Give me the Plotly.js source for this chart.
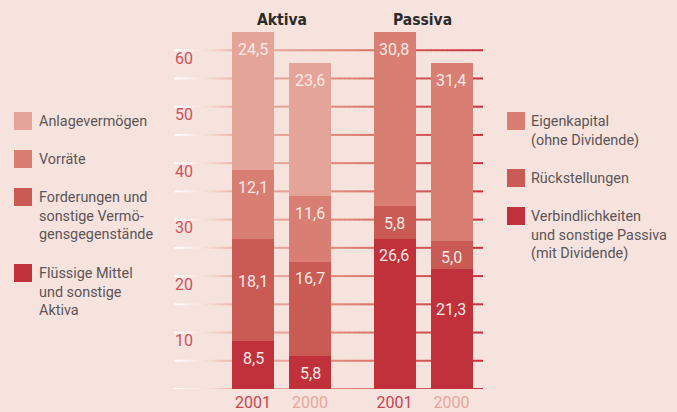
<!DOCTYPE html>
<html><head><meta charset="utf-8">
<script src="https://cdn.plot.ly/plotly-3.0.1.min.js"></script>
<style>html,body{margin:0;padding:0;background:#f6e3de}</style>
</head><body><div id="chart" style="width:677px;height:412px"></div>
<script>
// ---- data ----
const years = ['2001', '2000'];
const aktivaFluessig = [8.5, 5.8];
const aktivaForderungen = [18.1, 16.7];
const aktivaVorraete = [12.1, 11.6];
const aktivaAnlage = [24.5, 23.6];
const passivaVerbindlichkeiten = [26.6, 21.3];
const passivaRueckstellungen = [5.8, 5.0];
const passivaEigenkapital = [30.8, 31.4];
const aktivaNames = ['Flüssige Mittel<br>und sonstige<br>Aktiva', 'Forderungen und<br>sonstige Vermö-<br>gensgegenstände', 'Vorräte', 'Anlagevermögen'];
const passivaNames = ['Verbindlichkeiten<br>und sonstige Passiva<br>(mit Dividende)', 'Rückstellungen', 'Eigenkapital<br>(ohne Dividende)'];
const yTickValues = [10, 20, 30, 40, 50, 60];
const yTickText = ['10', '20', '30', '40', '50', '60'];
const groupTitles = ['Aktiva', 'Passiva'];

// ---- style ----
const W = 677, H = 412, MT = 22, MB = 23;
const shades = ['#c1313c', '#c95b54', '#d87e72', '#e5a498'];
const passivaShades = ['#c1313c', '#c95b54', '#d87e72'];
const bg = '#f6e3de';
const yearTickColors = ['#c94450', '#e9a59b'];
const aktivaLegendTop = [264, 188, 150, 112];
const passivaLegendTop = [207, 169, 112];
// extra downward shift (px) of some value labels, as in the original layout
const aktivaLabelDrop = [[0, 0], [26, 0], [0, 0], [0, 0]];
const passivaLabelDrop = [[0, 24], [0, 0], [0, 0]];
const px = v => v / W, py = v => (H - MB - v) / (H - MT - MB);

const aktivaSeries = [aktivaFluessig, aktivaForderungen, aktivaVorraete, aktivaAnlage];
const passivaSeries = [passivaVerbindlichkeiten, passivaRueckstellungen, passivaEigenkapital];
const xIdx = years.map((_, i) => i);

const traces = [];
const annotations = [];
const shapes = [];
const fmt = v => v.toFixed(1).replace('.', ',');

function addGroup(series, names, colors, xa, drops) {
  const cum = years.map(() => 0);
  series.forEach((vals, i) => {
    traces.push({
      type: 'bar', x: xIdx, y: vals, xaxis: xa, yaxis: 'y', width: 0.737,
      name: names[i].replace(/<br>/g, ' '), showlegend: false,
      marker: {color: colors[i], line: {width: 0}}, hoverinfo: 'y+name'
    });
    vals.forEach((v, j) => {
      cum[j] += v;
      annotations.push({
        xref: xa, yref: 'y', x: xIdx[j], y: cum[j], yshift: -17 - drops[i][j],
        text: fmt(v), showarrow: false, yanchor: 'middle', xanchor: 'center',
        font: {family: 'Roboto, sans-serif', size: 16, color: '#f9e9e5'}
      });
    });
  });
}
addGroup(aktivaSeries, aktivaNames, shades, 'x', aktivaLabelDrop);
addGroup(passivaSeries, passivaNames, passivaShades, 'x2', passivaLabelDrop);

// legends
function addLegend(names, colors, tops, sqLeft, textLeft) {
  names.forEach((n, i) => {
    shapes.push({type: 'rect', xref: 'paper', yref: 'paper',
      x0: px(sqLeft), x1: px(sqLeft + 18), y0: py(tops[i] + 18), y1: py(tops[i]),
      fillcolor: colors[i], line: {width: 0}, layer: 'above'});
    annotations.push({xref: 'paper', yref: 'paper', x: px(textLeft), y: py(tops[i] - 1),
      xanchor: 'left', yanchor: 'top', align: 'left', showarrow: false, text: n,
      font: {family: 'Roboto, sans-serif', size: 14.4, color: '#5b5556'}});
  });
}
addLegend(aktivaNames, shades, aktivaLegendTop, 14, 37);
addLegend(passivaNames, passivaShades, passivaLegendTop, 507, 529);

// titles
['x', 'x2'].forEach((xa, i) => {
  annotations.push({xref: xa + ' domain', yref: 'paper', x: 0.5, y: py(20), yanchor: 'middle',
    showarrow: false, text: '<b>' + groupTitles[i] + '</b>',
    font: {family: 'Liberation Sans Narrow, DejaVu Sans Condensed, Arial Narrow, sans-serif', size: 15.5, color: '#2b2b2b'}});
});

// gradient gridlines
const gx0 = 174, gx1 = 483;
const stops = [[0, [255,255,255]], [0.12, [243,216,209]], [0.18, [236,186,175]], [0.35, [230,163,151]],
  [0.55, [223,133,118]], [0.75, [212,95,92]], [1, [200,48,63]]];
function colAt(t) {
  for (let k = 1; k < stops.length; k++) {
    if (t <= stops[k][0]) {
      const a = stops[k-1], b = stops[k];
      const f = (t - a[0]) / (b[0] - a[0]);
      const c = a[1].map((v, m) => Math.round(v + (b[1][m] - v) * f));
      return 'rgb(' + c.join(',') + ')';
    }
  }
  return 'rgb(200,48,63)';
}
const nSeg = 60;
for (let g = 0; g <= 60; g += 5) {
  for (let s = 0; s < nSeg; s++) {
    const a = gx0 + (gx1 - gx0) * s / nSeg, b = gx0 + (gx1 - gx0) * (s + 1) / nSeg + 0.5;
    shapes.push({type: 'line', xref: 'paper', yref: 'y', x0: px(a), x1: px(Math.min(b, gx1)), y0: g, y1: g,
      line: {color: colAt((s + 0.5) / nSeg), width: 2}, layer: 'below'});
  }
}

const xCommon = {type: 'linear', range: [-0.5, 1.5],
  showgrid: false, zeroline: false, showline: false, ticks: '', anchor: 'y', fixedrange: true,
  tickmode: 'array', tickvals: xIdx, tickangle: 0, ticklabelstandoff: 2,
  ticktext: years.map((y, i) => '<span style="color:' + yearTickColors[i] + '">' + y + '</span>'),
  tickfont: {family: 'Roboto, sans-serif', size: 16}};

const layout = {
  width: W, height: H, margin: {l: 0, r: 0, t: MT, b: MB},
  paper_bgcolor: bg, plot_bgcolor: 'rgba(0,0,0,0)',
  barmode: 'stack', showlegend: false,
  separators: ',.',
  xaxis: Object.assign({domain: [224.5 / W, 338.5 / W]}, xCommon),
  xaxis2: Object.assign({domain: [366 / W, 480 / W]}, xCommon),
  yaxis: {range: [0, 65], showgrid: false, zeroline: false, showline: false, ticks: '',
    anchor: 'free', position: (gx0 - 3) / W, tickmode: 'array', tickvals: yTickValues, ticktext: yTickText,
    ticklabelposition: 'inside bottom', ticklabelshift: -3, fixedrange: true,
    tickfont: {family: 'Roboto, sans-serif', size: 16, color: '#d4505b'}},
  annotations: annotations, shapes: shapes
};
Plotly.newPlot('chart', traces, layout, {displayModeBar: false, staticPlot: true});
</script></body></html>
